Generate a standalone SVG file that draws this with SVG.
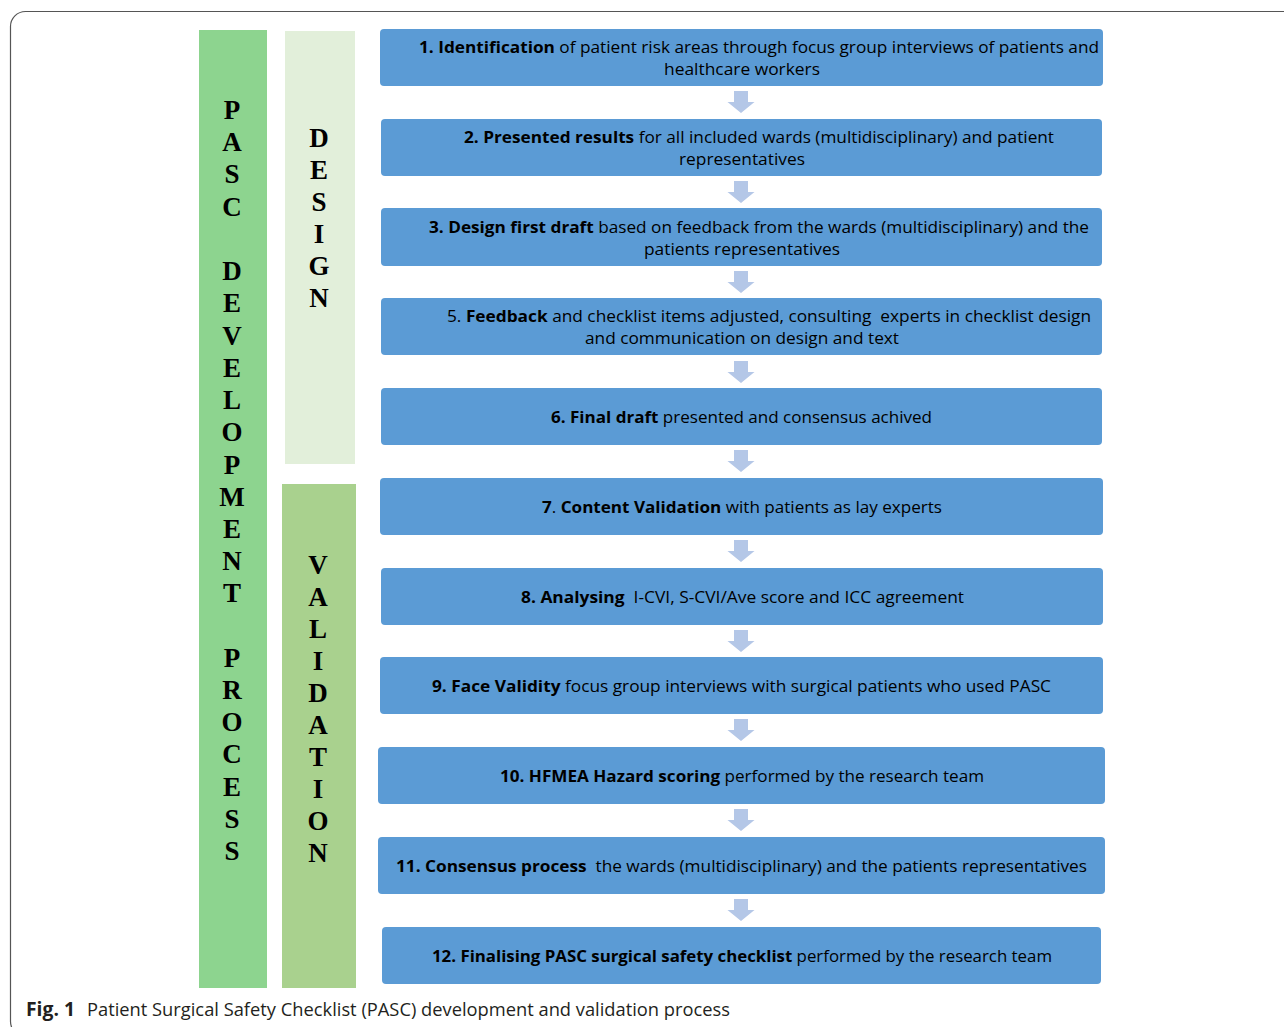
<svg xmlns="http://www.w3.org/2000/svg" width="1284" height="1027" viewBox="0 0 1284 1027">
<style>
.box{fill:#5B9BD5}
.t{font-family:"Open Sans","Noto Sans",sans-serif;font-size:16px;fill:#000;white-space:pre}
.b{font-weight:bold}
.v{font-family:"Liberation Serif","Times New Roman",serif;font-weight:bold;font-size:27px;fill:#000;text-anchor:middle}
.arr{fill:#B4C7E7}
.cap{font-family:"Open Sans","Noto Sans",sans-serif;font-size:19px;fill:#231F20;white-space:pre}
</style>
<defs>
<path id="dn" d="M-7,0 H7 V11 H13.5 L0,22 L-13.5,11 H-7 Z"/>
</defs>
<rect x="10.5" y="11.5" width="1300" height="1025" rx="15" fill="#fff" stroke="#555" stroke-width="1.2"/>
<g id="col-pasc">
<rect x="199" y="30" width="68" height="958" fill="#8DD48F"/>
<text class="v" x="232" y="119">P</text><text class="v" x="232" y="151">A</text><text class="v" x="232" y="183">S</text><text class="v" x="232" y="216">C</text>
<text class="v" x="232" y="280">D</text><text class="v" x="232" y="312">E</text><text class="v" x="232" y="345">V</text><text class="v" x="232" y="377">E</text><text class="v" x="232" y="409">L</text><text class="v" x="232" y="441">O</text><text class="v" x="232" y="474">P</text><text class="v" x="232" y="506">M</text><text class="v" x="232" y="538">E</text><text class="v" x="232" y="570">N</text><text class="v" x="232" y="602">T</text>
<text class="v" x="232" y="667">P</text><text class="v" x="232" y="699">R</text><text class="v" x="232" y="731">O</text><text class="v" x="232" y="763">C</text><text class="v" x="232" y="796">E</text><text class="v" x="232" y="828">S</text><text class="v" x="232" y="860">S</text>
</g>
<g id="col-design">
<rect x="285" y="31" width="70" height="433" fill="#E2EFDA"/>
<text class="v" x="319" y="147">D</text><text class="v" x="319" y="179">E</text><text class="v" x="319" y="211">S</text><text class="v" x="319" y="243">I</text><text class="v" x="319" y="275">G</text><text class="v" x="319" y="307">N</text>
</g>
<g id="col-validation">
<rect x="282" y="484" width="74" height="504" fill="#A9D18E"/>
<text class="v" x="318" y="574">V</text><text class="v" x="318" y="606">A</text><text class="v" x="318" y="638">L</text><text class="v" x="318" y="670">I</text><text class="v" x="318" y="702">D</text><text class="v" x="318" y="734">A</text><text class="v" x="318" y="766">T</text><text class="v" x="318" y="798">I</text><text class="v" x="318" y="830">O</text><text class="v" x="318" y="862">N</text>
</g>
<g id="connectors">
<use href="#dn" class="arr" x="741" y="91"/>
<use href="#dn" class="arr" x="741" y="181"/>
<use href="#dn" class="arr" x="741" y="271"/>
<use href="#dn" class="arr" x="741" y="361"/>
<use href="#dn" class="arr" x="741" y="450"/>
<use href="#dn" class="arr" x="741" y="540"/>
<use href="#dn" class="arr" x="741" y="630"/>
<use href="#dn" class="arr" x="741" y="719"/>
<use href="#dn" class="arr" x="741" y="809"/>
<use href="#dn" class="arr" x="741" y="899"/>
</g>
<g id="step1">
<rect class="box" x="380" y="29" width="723" height="57" rx="4"/>
<text class="t" x="419" y="53" textLength="680" lengthAdjust="spacingAndGlyphs"><tspan class="b">1. Identification</tspan> of patient risk areas through focus group interviews of patients and</text>
<text class="t" x="664" y="75" textLength="156" lengthAdjust="spacingAndGlyphs">healthcare workers</text>
</g>
<g id="step2">
<rect class="box" x="381" y="119" width="721" height="57" rx="4"/>
<text class="t" x="464" y="143" textLength="590" lengthAdjust="spacingAndGlyphs"><tspan class="b">2. Presented results</tspan> for all included wards (multidisciplinary) and patient</text>
<text class="t" x="679" y="165" textLength="126" lengthAdjust="spacingAndGlyphs">representatives</text>
</g>
<g id="step3">
<rect class="box" x="381" y="208" width="721" height="58" rx="4"/>
<text class="t" x="429" y="233" textLength="660" lengthAdjust="spacingAndGlyphs"><tspan class="b">3. Design first draft</tspan> based on feedback from the wards (multidisciplinary) and the</text>
<text class="t" x="644" y="255" textLength="196" lengthAdjust="spacingAndGlyphs">patients representatives</text>
</g>
<g id="step5">
<rect class="box" x="381" y="298" width="721" height="57" rx="4"/>
<text class="t" x="447" y="322" textLength="644" lengthAdjust="spacingAndGlyphs">5. <tspan class="b">Feedback</tspan> and checklist items adjusted, consulting  experts in checklist design</text>
<text class="t" x="585" y="344" textLength="314" lengthAdjust="spacingAndGlyphs">and communication on design and text</text>
</g>
<g id="step6">
<rect class="box" x="381" y="388" width="721" height="57" rx="4"/>
<text class="t" x="551" y="423" textLength="381" lengthAdjust="spacingAndGlyphs"><tspan class="b">6. Final draft</tspan> presented and consensus achived</text>
</g>
<g id="step7">
<rect class="box" x="380" y="478" width="723" height="57" rx="4"/>
<text class="t" x="542" y="513" textLength="400" lengthAdjust="spacingAndGlyphs"><tspan class="b">7</tspan>. <tspan class="b">Content Validation</tspan> with patients as lay experts</text>
</g>
<g id="step8">
<rect class="box" x="381" y="568" width="722" height="57" rx="4"/>
<text class="t" x="521" y="603" textLength="443" lengthAdjust="spacingAndGlyphs"><tspan class="b">8. Analysing</tspan>  I-CVI, S-CVI/Ave score and ICC agreement</text>
</g>
<g id="step9">
<rect class="box" x="380" y="657" width="723" height="57" rx="4"/>
<text class="t" x="432" y="692" textLength="619" lengthAdjust="spacingAndGlyphs"><tspan class="b">9. Face Validity</tspan> focus group interviews with surgical patients who used PASC</text>
</g>
<g id="step10">
<rect class="box" x="378" y="747" width="727" height="57" rx="4"/>
<text class="t" x="500" y="782" textLength="484" lengthAdjust="spacingAndGlyphs"><tspan class="b">10. HFMEA Hazard scoring</tspan> performed by the research team</text>
</g>
<g id="step11">
<rect class="box" x="378" y="837" width="727" height="57" rx="4"/>
<text class="t" x="396" y="872" textLength="691" lengthAdjust="spacingAndGlyphs"><tspan class="b">11. Consensus process</tspan>  the wards (multidisciplinary) and the patients representatives</text>
</g>
<g id="step12">
<rect class="box" x="382" y="927" width="719" height="57" rx="4"/>
<text class="t" x="432" y="962" textLength="620" lengthAdjust="spacingAndGlyphs"><tspan class="b">12. Finalising PASC surgical safety checklist</tspan> performed by the research team</text>
</g>
<g id="caption">
<text class="cap b" x="26" y="1016" textLength="49" lengthAdjust="spacingAndGlyphs">Fig. 1</text>
<text class="cap" x="87" y="1016" textLength="643" lengthAdjust="spacingAndGlyphs">Patient Surgical Safety Checklist (PASC) development and validation process</text>
</g>
</svg>
